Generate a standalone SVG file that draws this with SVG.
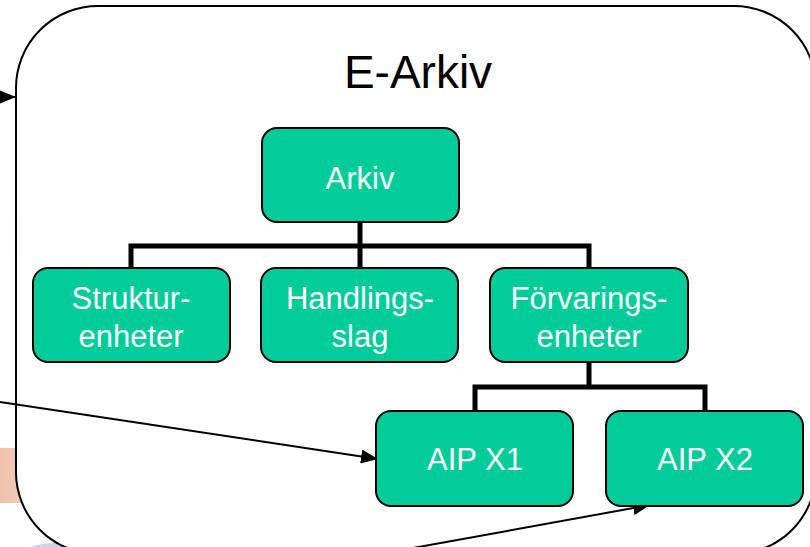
<svg xmlns="http://www.w3.org/2000/svg" width="810" height="547" viewBox="0 0 810 547">
<defs>
<style>
.node rect{fill:#00CC99;stroke:#000;stroke-width:2}
.node text{font-family:"Liberation Sans",Arial,sans-serif;font-size:31px;fill:#fff;text-anchor:middle}
.tree{stroke:#000;stroke-width:5;fill:none}
.arrow{stroke:#000;stroke-width:2;fill:none;marker-end:url(#ah)}
</style>
<marker id="ah" viewBox="0 0 17 14" refX="17" refY="7" markerWidth="17" markerHeight="14" markerUnits="userSpaceOnUse" orient="auto">
<path d="M0,0 L17,7 L0,14 z" fill="#000"/>
</marker>
<linearGradient id="og" x1="0" x2="1" y1="0" y2="0">
<stop offset="0" stop-color="#f0c0a8"/><stop offset="1" stop-color="#f4d2c2"/>
</linearGradient>
</defs>
<rect width="810" height="547" fill="#fff"/>
<rect x="0" y="448" width="30" height="55" fill="url(#og)"/>
<path d="M30,547 C60,538 150,535 260,540 L260,547 Z" fill="#c9d3ea"/>
<g id="container">
<rect x="16" y="6" width="800" height="548" rx="82" ry="82" fill="#fff" stroke="#000" stroke-width="2"/>
<text x="418" y="88" font-family="'Liberation Sans',Arial,sans-serif" font-size="46" text-anchor="middle" fill="#000">E-Arkiv</text>
</g>
<g id="connectors">
<path class="tree" d="M360,222 V246 M131,268 V246 H589 V268 M360,246 V268"/>
<path class="tree" d="M589,363 V387 M475,411 V387 H705 V411"/>
<line class="arrow" x1="-20" y1="97" x2="16" y2="97"/>
<line class="arrow" x1="0" y1="402" x2="378" y2="459"/>
<line class="arrow" x1="413" y1="548" x2="650" y2="505"/>
</g>
<g id="arkiv" class="node"><rect x="262" y="128" width="197" height="94" rx="15"/><text x="360" y="189">Arkiv</text></g>
<g id="struktur" class="node"><rect x="33" y="268" width="197" height="94" rx="15"/><text x="131" y="309">Struktur-</text><text x="131" y="347">enheter</text></g>
<g id="handlings" class="node"><rect x="261" y="268" width="197" height="94" rx="15"/><text x="360" y="309">Handlings-</text><text x="360" y="347">slag</text></g>
<g id="forvarings" class="node"><rect x="490" y="268" width="198" height="94" rx="15"/><text x="589" y="309">Förvarings-</text><text x="589" y="347">enheter</text></g>
<g id="aipx1" class="node"><rect x="376" y="411" width="197" height="95" rx="15"/><text x="475" y="470">AIP X1</text></g>
<g id="aipx2" class="node"><rect x="606" y="411" width="197" height="95" rx="15"/><text x="705" y="470">AIP X2</text></g>
</svg>
